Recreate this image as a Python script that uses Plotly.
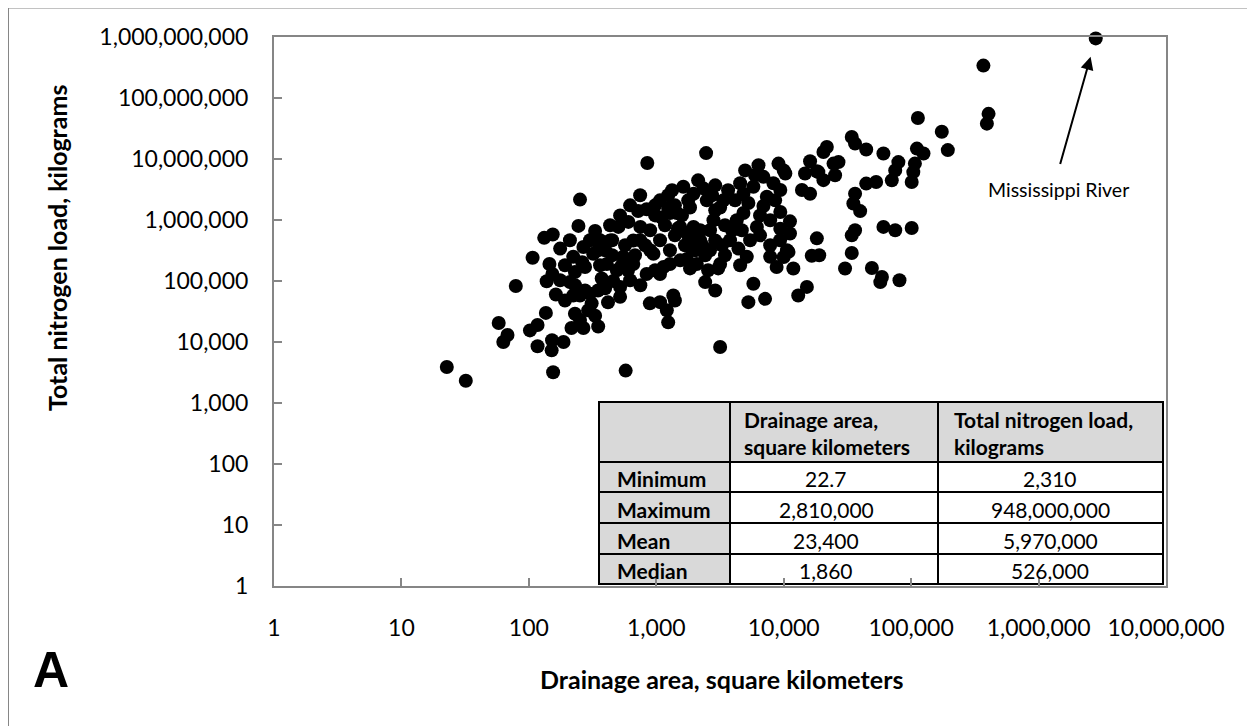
import math
import plotly.graph_objects as go

# ---------------- data ----------------
# small / lower-left basins
area_low = [850, 2460, 252, 245, 107, 79, 58, 68, 63, 102,
            117, 117, 136, 152, 151, 187, 163, 138, 132, 154,
            176, 145, 153, 223, 268, 331, 320, 276, 230, 210,
            223, 252, 302, 311, 230, 252, 216, 268, 350, 331,
            22.7, 32, 155, 575]
load_low = [8.6e6, 1.25e7, 2.16e6, 8.0e5, 2.4e5, 8.3e4, 2.05e4, 1.3e4, 1.0e4, 1.55e4,
            1.9e4, 8.5e3, 3.0e4, 1.07e4, 7.3e3, 1.0e4, 6.0e4, 9.9e4, 5.1e5, 5.8e5,
            3.4e5, 1.9e5, 1.3e5, 2.5e5, 3.6e5, 6.6e5, 2.8e5, 1.7e5, 1.4e5, 9.6e4,
            5.8e4, 5.8e4, 6.2e4, 4.3e4, 2.9e4, 2.3e4, 1.7e4, 1.7e4, 1.8e4, 2.7e4,
            3900, 2310, 3200, 3400]

# central cluster
area_mid = [373, 409, 434, 504, 604, 720, 840, 750, 660, 550,
            490, 460, 520, 520, 750, 840, 660, 950, 1140, 1280,
            1070, 890, 1070, 1210, 1240, 1360, 1400, 1100, 1280, 1450,
            1630, 1960, 2340, 2490, 1840, 1540, 1740, 1960, 2210, 1840,
            1740, 2080, 2640, 2900, 2810, 3170, 3360, 3170, 2420, 2900,
            4280, 4690, 4410, 5130, 4830, 5280, 4550, 4830, 5780, 6340,
            6930, 8300, 7370, 6930, 6160, 9100, 10300, 9400, 9400, 11200,
            9400, 11200, 5780, 5280, 7140, 7830, 8800, 10600, 11900, 13000,
            15200, 16600, 18200, 16100, 14700, 13900, 16100, 18200, 3170]
load_mid = [1.1e5, 1.9e5, 4.6e5, 7.7e5, 9.3e5, 1.4e6, 1.5e6, 7.7e5, 4.6e5, 2.5e5,
            1.5e5, 1.0e5, 8.0e4, 5.5e4, 8.5e4, 1.3e5, 1.9e5, 2.8e5, 1.7e5, 1.9e5,
            1.3e5, 4.3e4, 4.5e4, 3.3e4, 2.1e4, 5.8e4, 4.8e4, 1.1e6, 1.3e6, 1.3e6,
            3.5e6, 2.7e6, 3.3e6, 2.1e6, 1.6e6, 7.7e5, 6.0e5, 7.7e5, 4.6e5, 3.6e5,
            2.3e5, 1.9e5, 3.2e5, 4.6e5, 9.9e5, 1.6e6, 2.1e6, 1.9e5, 9.6e4, 7.0e4,
            9.9e5, 6.8e5, 3.4e5, 2.5e5, 1.3e6, 1.9e6, 4.0e6, 2.7e6, 3.5e6, 7.9e6,
            5.1e6, 4.0e6, 2.4e6, 1.7e6, 7.7e5, 8.4e6, 5.8e6, 3.1e6, 1.35e6, 9.5e5,
            7.2e5, 6.0e5, 9.0e4, 4.5e4, 5.1e4, 2.5e5, 1.7e5, 3.2e5, 1.6e5, 5.8e4,
            8.0e4, 2.6e5, 5.0e5, 9.2e6, 5.8e6, 3.1e6, 2.7e6, 6.3e6, 8.3e3]

# dense core of the cluster
area_core = [979, 1170, 1400, 1680, 2020, 2420, 1070, 1280, 1540, 2640,
             3460, 3790, 3460, 895, 817, 1070, 1400, 2210, 2900, 4150,
             3660, 2900, 2130, 1780, 1240, 979, 747, 623, 520, 434,
             362, 397, 450, 569, 681, 979, 600, 362, 397, 623,
             192, 210, 176, 302, 349, 276, 192, 292, 6520, 7830,
             8570, 5450, 6520, 7830, 9370, 5960, 4980,
             1330, 1590, 1910, 2290, 2740, 3280, 3930, 1480, 1240, 3060,
             2550, 1840, 4550, 895, 450, 538, 747, 349, 230, 418, 262]
load_core = [1.19e6, 8.2e5, 5.6e5, 3.85e5, 3.2e5, 2.64e5, 4.65e5, 3.2e5, 2.18e5, 6.8e5,
             8.2e5, 4.65e5, 2.64e5, 6.8e5, 3.85e5, 2.1e6, 1.74e6, 6.8e5, 1.44e6, 2.1e6,
             3.07e6, 3.7e6, 4.47e6, 2.1e6, 2.54e6, 1.74e6, 2.54e6, 1.74e6, 1.19e6, 8.2e5,
             4.65e5, 3.2e5, 2.64e5, 3.85e5, 2.64e5, 1.5e5, 1.5e5, 1.81e5, 7.6e4, 1.03e5,
             1.81e5, 4.65e5, 1.03e5, 4.65e5, 3.2e5, 7.0e4, 4.8e4, 3.3e4, 1.19e6, 9.9e5,
             2.1e6, 4.65e5, 5.6e5, 3.85e5, 4.65e5, 5.4e6, 6.5e6,
             3.07e6, 1.19e6, 5.6e5, 3.85e5, 2.54e6, 3.85e5, 6.8e5, 7.3e5, 1.55e6, 1.61e5,
             1.5e5, 1.61e5, 1.81e5, 3.2e5, 4.65e5, 1.81e5, 4.65e5, 7.0e4, 8.5e4, 4.47e4, 2.03e5]

# large basins (last one is the Mississippi River)
area_big = [369000, 405000, 393000, 113000, 174000, 194000, 111000, 125000, 107000, 104000,
            101000, 79400, 75000, 70500, 60600, 53100, 44400, 44400, 34200, 36300,
            21800, 20500, 26900, 24600, 18700, 25300, 20500, 10000, 36300, 35200,
            39800, 36300, 34200, 60600, 75000, 101000, 19000, 34200, 30300, 49200,
            59000, 57300, 81000, 10900, 10000, 2810000]
load_big = [3.4e8, 5.5e7, 3.8e7, 4.7e7, 2.8e7, 1.4e7, 1.48e7, 1.23e7, 8.4e6, 6.1e6,
            4.2e6, 8.9e6, 6.5e6, 4.47e6, 1.23e7, 4.2e6, 3.95e6, 1.43e7, 2.3e7, 1.79e7,
            1.57e7, 1.3e7, 8.9e6, 8.4e6, 6.1e6, 5.4e6, 4.5e6, 6.5e6, 2.7e6, 1.86e6,
            1.4e6, 6.8e5, 5.6e5, 7.7e5, 6.8e5, 7.4e5, 2.64e5, 2.88e5, 1.6e5, 1.63e5,
            1.16e5, 9.6e4, 1.03e5, 3.0e5, 2.47e5, 9.48e8]

mississippi_area = 2810000
mississippi_load = 948000000

x_ticks = [1, 10, 100, 1000, 10000, 100000, 1000000, 10000000]
y_ticks = [1, 10, 100, 1000, 10000, 100000, 1000000, 10000000, 100000000, 1000000000]

table_rows = ["Minimum", "Maximum", "Mean", "Median"]
table_area = ["22.7", "2,810,000", "23,400", "1,860"]
table_load = ["2,310", "948,000,000", "5,970,000", "526,000"]
table_head_area = ["Drainage area,", "square kilometers"]
table_head_load = ["Total nitrogen load,", "kilograms"]

# ---------------- figure ----------------
area = area_low + area_mid + area_core + area_big
load = load_low + load_mid + load_core + load_big

OFF = 8                      # page offset of the plot div (body margin)
W, H = 1255 - OFF, 726 - OFF
L, R, T, B = 266, 89, 29, 140
pw, ph = W - L - R, H - T - B

def px_x(p):                 # page pixel -> paper fraction
    return (p - OFF - L) / pw

def px_y(p):
    return (H - B - (p - OFF)) / ph

TICKFONT = dict(family="Lato, Liberation Sans, sans-serif", size=23, color="black")
AXCOL = "#868686"
TFONT = "Lato, sans-serif"

fig = go.Figure()
fig.add_trace(go.Scatter(
    x=area, y=load, mode="markers",
    marker=dict(color="black", size=14, line=dict(width=0)),
    cliponaxis=False, showlegend=False, hoverinfo="x+y",
))

fig.update_xaxes(
    type="log", range=[0, 7], tickvals=x_ticks, ticktext=[f"{v:,}" for v in x_ticks],
    ticks="inside", ticklen=8, tickwidth=2, tickcolor=AXCOL,
    showline=True, linecolor=AXCOL, linewidth=2, mirror=True,
    showgrid=False, zeroline=False, tickfont=TICKFONT, ticklabelstandoff=20,
)
fig.update_yaxes(
    type="log", range=[0, 9], tickvals=y_ticks, ticktext=[f"{v:,}" for v in y_ticks],
    ticks="inside", ticklen=8, tickwidth=2, tickcolor=AXCOL,
    showline=True, linecolor=AXCOL, linewidth=2, mirror=True,
    showgrid=False, zeroline=False, tickfont=TICKFONT, ticklabelstandoff=19,
)

# ---- statistics table (drawn with shapes + text) ----
col_edges = [599, 730, 938, 1163]
row_edges = [402, 462, 492, 523, 554, 584]
shapes = []
# outer frame of the figure (left & top visible)
shapes.append(dict(type="rect", xref="paper", yref="paper",
                   x0=px_x(8), x1=px_x(1400), y0=px_y(900), y1=px_y(7.5),
                   line=dict(color=AXCOL, width=2), fillcolor="rgba(0,0,0,0)", layer="below"))
for ri in range(len(row_edges) - 1):
    for ci in range(len(col_edges) - 1):
        gray = ri == 0 or ci == 0
        shapes.append(dict(type="rect", xref="paper", yref="paper",
                           x0=px_x(col_edges[ci]), x1=px_x(col_edges[ci + 1]),
                           y0=px_y(row_edges[ri + 1]), y1=px_y(row_edges[ri]),
                           line=dict(color="black", width=2),
                           fillcolor="#d9d9d9" if gray else "white", layer="below"))

def note(text, x, y, size, xanchor="center", family=TFONT, angle=0):
    return dict(text=text, xref="paper", yref="paper", x=px_x(x), y=px_y(y),
                xanchor=xanchor, yanchor="middle", showarrow=False, textangle=angle,
                font=dict(family=family, size=size, color="black"))

annotations = []
TBL = 21
for i, txt in enumerate(table_head_area):
    annotations.append(note(f"<b>{txt}</b>", 742, [419, 446][i], TBL, "left"))
for i, txt in enumerate(table_head_load):
    annotations.append(note(f"<b>{txt}</b>", 952, [419, 446][i], TBL, "left"))
row_centers = [479, 509, 540, 570]
for i in range(len(table_rows)):
    annotations.append(note(f"<b>{table_rows[i]}</b>", 615, row_centers[i], TBL, "left"))
    annotations.append(note(table_area[i], 826, row_centers[i], TBL))
    annotations.append(note(table_load[i], 1050, row_centers[i], TBL))

annotations += [
    note("<b>Drainage area, square kilometers</b>", 721, 679, 25),
    note("<b>Total nitrogen load, kilograms</b>", 57, 248, 25, angle=-90),
    note("<b>A</b>", 51, 670, 50, family="Liberation Sans, Arial, sans-serif"),
    note("Mississippi River", 1058, 189, 19.5),
    dict(text="", x=math.log10(mississippi_area), y=math.log10(mississippi_load),
         xref="x", yref="y", showarrow=True, ax=-36, ay=127, arrowhead=2, arrowsize=1.3,
         arrowwidth=2, arrowcolor="black", standoff=19),
]

fig.update_layout(
    width=W, height=H, margin=dict(l=L, r=R, t=T, b=B),
    paper_bgcolor="white", plot_bgcolor="rgba(0,0,0,0)",
    annotations=annotations, showlegend=False, shapes=shapes,
)

fig.write_html("out.html")
